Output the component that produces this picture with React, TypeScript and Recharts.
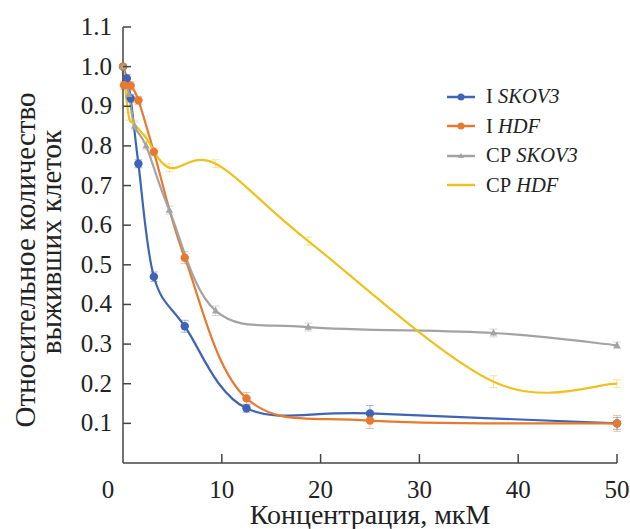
import {LineChart, Line, XAxis, YAxis, Legend, ErrorBar} from 'recharts';

// concentrations (µM) and relative survival
const iSkovConc = [0, 0.39, 0.78, 1.56, 3.125, 6.25, 12.5, 25, 50];
const iSkovVal = [1.0, 0.97, 0.92, 0.755, 0.47, 0.345, 0.138, 0.125, 0.1];
const iSkovErr = [0, 0.01, 0.01, 0.01, 0.012, 0.015, 0.01, 0.02, 0.015];

const iHdfConc = [0, 0.1, 0.78, 1.56, 3.125, 6.25, 12.5, 25, 50];
const iHdfVal = [1.0, 0.953, 0.952, 0.915, 0.785, 0.518, 0.163, 0.107, 0.1];
const iHdfErr = [0, 0.01, 0.01, 0.01, 0.01, 0.015, 0.015, 0.02, 0.02];

const cpSkovConc = [0, 0.59, 1.17, 2.34, 4.69, 9.38, 18.75, 37.5, 50];
const cpSkovVal = [1.0, 0.93, 0.85, 0.8, 0.638, 0.384, 0.343, 0.328, 0.297];
const cpSkovErr = [0, 0.01, 0.01, 0.01, 0.01, 0.012, 0.01, 0.01, 0.008];

const cpHdfConc = [0, 0.59, 1.17, 2.34, 4.69, 9.38, 18.75, 37.5, 50];
const cpHdfVal = [1.0, 0.875, 0.855, 0.82, 0.745, 0.755, 0.56, 0.205, 0.2];
const cpHdfErr = [0, 0.01, 0.01, 0.01, 0.01, 0.01, 0.01, 0.015, 0.01];

const xTicks = [0, 10, 20, 30, 40, 50];
const yTicks = [0.1, 0.2, 0.3, 0.4, 0.5, 0.6, 0.7, 0.8, 0.9, 1.0, 1.1];

const seriesNames = ['I SKOV3', 'I HDF', 'CP SKOV3', 'CP HDF'];
const colors = ['#3F64B6', '#E67A30', '#A3A3A3', '#EDC21F'];

const FONT = '"Liberation Serif", "Times New Roman", serif';

const toRows = (xs: number[], ys: number[], es: number[]) =>
    xs.map((x, i) => ({x, y: ys[i], err: es[i]}));

const iSkovData = toRows(iSkovConc, iSkovVal, iSkovErr);
const iHdfData = toRows(iHdfConc, iHdfVal, iHdfErr);
const cpSkovData = toRows(cpSkovConc, cpSkovVal, cpSkovErr);
const cpHdfData = toRows(cpHdfConc, cpHdfVal, cpHdfErr);

// Excel-style smoothed line (uniform Catmull-Rom as cubic Bezier)
function excelSmooth(context: any) {
    let pts: number[][] = [];
    return {
        areaStart() {},
        areaEnd() {},
        lineStart() {
            pts = [];
        },
        point(x: number, y: number) {
            pts.push([+x, +y]);
        },
        lineEnd() {
            const n = pts.length;
            if (!n) return;
            context.moveTo(pts[0][0], pts[0][1]);
            for (let i = 0; i < n - 1; i++) {
                const p0 = pts[i - 1] || pts[i];
                const p1 = pts[i];
                const p2 = pts[i + 1];
                const p3 = pts[i + 2] || p2;
                context.bezierCurveTo(
                    p1[0] + (p2[0] - p0[0]) / 6, p1[1] + (p2[1] - p0[1]) / 6,
                    p2[0] - (p3[0] - p1[0]) / 6, p2[1] - (p3[1] - p1[1]) / 6,
                    p2[0], p2[1]
                );
            }
        },
    };
}

const XTick = (props: any) => {
    const {x, y, payload} = props;
    const v = payload.value;
    return (
        <g>
            {v !== 0 && <line x1={x} y1={y} x2={x} y2={y - 9} stroke="#444" strokeWidth={1.5}/>}
            <text x={v === 0 ? x - 15 : x} y={y + 35} textAnchor="middle"
                  fontFamily={FONT} fontSize={25} fill="#222">{v}</text>
        </g>
    );
};

const YTick = (props: any) => {
    const {x, y, payload} = props;
    return (
        <g>
            <line x1={x} y1={y} x2={x + 8} y2={y} stroke="#444" strokeWidth={1.5}/>
            <text x={x - 11} y={y + 8} textAnchor="end"
                  fontFamily={FONT} fontSize={25} fill="#222">{payload.value.toFixed(1)}</text>
        </g>
    );
};

const YTitle = () => (
    <g fontFamily={FONT} fontSize={29} fill="#222">
        <text transform="translate(25, 260) rotate(-90)" textAnchor="middle" dominantBaseline="central">
            Относительное количество
        </text>
        <text transform="translate(51, 242) rotate(-90)" textAnchor="middle" dominantBaseline="central">
            выживших клеток
        </text>
    </g>
);

const XTitle = () => (
    <text x={370} y={524} textAnchor="middle" fontFamily={FONT} fontSize={28} fill="#222">
        Концентрация, мкМ
    </text>
);

const Dot = ({cx, cy, color}: any) => <circle cx={cx} cy={cy} r={4.2} fill={color}/>;
const Tri = ({cx, cy, color}: any) => (
    <path d={`M${cx},${cy - 4} L${cx + 3.6},${cy + 2.6} L${cx - 3.6},${cy + 2.6} Z`} fill={color}/>
);

const markers = ['dot', 'dot', 'tri', 'none'];

const renderLegend = () => (
    <div style={{fontFamily: FONT, fontSize: 20.5, color: '#222'}}>
        {seriesNames.map((name, i) => {
            const [pre, cell] = name.split(' ');
            return (
                <div key={name} style={{display: 'flex', alignItems: 'center', height: 29.5}}>
                    <svg width={36} height={12} style={{marginRight: 7}}>
                        <line x1={4} y1={6} x2={32} y2={6} stroke={colors[i]} strokeWidth={2.5}/>
                        {markers[i] === 'dot' && <circle cx={18} cy={6} r={3.5} fill={colors[i]}/>}
                        {markers[i] === 'tri' && <path d="M18,3 L21,8 L15,8 Z" fill={colors[i]}/>}
                    </svg>
                    <span>{pre}&nbsp;<i>{cell}</i></span>
                </div>
            );
        })}
    </div>
);

export default function App() {
    const series = [iSkovData, iHdfData, cpSkovData, cpHdfData];
    return (
        <div style={{position: 'absolute', left: 0, top: 0}}>
            <LineChart width={630} height={529} margin={{top: 27, right: 13, bottom: 0, left: 0}}>
                <XAxis type="number" dataKey="x" domain={[0, 50]} ticks={xTicks}
                       allowDuplicatedCategory={false}
                       axisLine={{stroke: '#444', strokeWidth: 1.5}} tickLine={false}
                       tickSize={0} tickMargin={0} height={66} tick={<XTick/>}
                       label={<XTitle/>}/>
                <YAxis type="number" domain={[0, 1.1]} ticks={yTicks} width={123}
                       axisLine={{stroke: '#444', strokeWidth: 1.5}} tickLine={false}
                       tickSize={0} tickMargin={0} tick={<YTick/>}
                       label={<YTitle/>}/>
                <Legend content={renderLegend} layout="vertical" verticalAlign="middle" align="center"
                        wrapperStyle={{left: 443, top: 82, width: 180}}/>
                {series.map((data, i) => (
                    <Line key={seriesNames[i]} data={data} dataKey="y" name={seriesNames[i]}
                          type={excelSmooth as any} stroke={colors[i]} strokeWidth={2.2}
                          dot={markers[i] === 'dot'
                              ? (p: any) => <Dot key={p.index} {...p} color={colors[i]}/>
                              : markers[i] === 'tri'
                                  ? (p: any) => <Tri key={p.index} {...p} color={colors[i]}/>
                                  : false}
                          activeDot={false} isAnimationActive={false}>
                        <ErrorBar dataKey="err" direction="y" width={4} stroke={colors[i]}
                                  strokeOpacity={0.45} strokeWidth={1} isAnimationActive={false}/>
                    </Line>
                ))}
            </LineChart>
        </div>
    );
}
